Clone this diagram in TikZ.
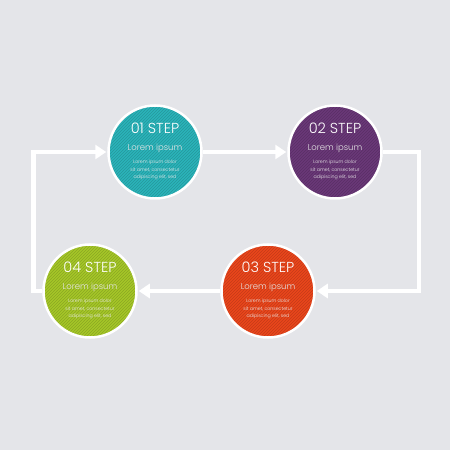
\documentclass[tikz,border=0pt]{standalone}
\usepackage{fontspec}
\setmainfont{Poppins Light}
\usepackage{xcolor}
\usepackage{tikz}
\usetikzlibrary{arrows.meta,patterns,calc}

\definecolor{bgray}{RGB}{228,229,233}
\definecolor{cteal}{RGB}{43,180,186}
\definecolor{cplum}{RGB}{106,56,120}
\definecolor{cred}{RGB}{234,70,28}
\definecolor{clime}{RGB}{166,199,40}

\newcommand{\stepText}[2]{%
	\node[steptitle] (#1t) at ($(#1)+(0,24)$) {#2 STEP};
	\node[stepsub] (#1s) at ($(#1)+(0,4)$) {Lorem ipsum};
	\node[stepbody] (#1b) at ($(#1)+(0,-18)$) {Lorem ipsum dolor\\sit amet, consectetur\\adipiscing elit, sed};
}

\begin{document}
\begin{tikzpicture}[x=1pt,y=1pt,
	stepdisc/.style={circle, draw=white, line width=2.5pt, minimum size=93pt, inner sep=0pt, preaction={fill=#1}, preaction={pattern=north east lines, pattern color=#1!84!black}},
	steptitle/.style={text=white, font=\fontsize{14.5}{16}\selectfont, inner sep=0pt},
	stepsub/.style={text=white!80!gray, font=\fontsize{8.5}{10}\selectfont, inner sep=0pt},
	stepbody/.style={text=white!85!gray, font=\fontsize{4.7}{7.3}\selectfont, align=center, inner sep=0pt},
	flow/.style={draw=white, line width=4.5pt, -{Triangle[length=11pt,width=14pt]}}]
	\fill[bgray] (0,0) rectangle (450,450);
	\useasboundingbox (0,0) rectangle (450,450);
	\node[stepdisc=cteal] (s1) at (155,298) {};
	\node[stepdisc=cplum] (s2) at (335,298) {};
	\node[stepdisc=cred] (s3) at (268,159) {};
	\node[stepdisc=clime] (s4) at (90,159) {};
	% the loop of arrows
	\draw[flow] (s4.west) -- ++(-9,0) |- ([xshift=-1pt]s1.west);
	\draw[flow] (s1.east) -- ([xshift=-1pt]s2.west);
	\draw[flow] (s2.east) -- ++(36,0) |- ([xshift=1pt]s3.east);
	\draw[flow] (s3.west) -- ([xshift=1pt]s4.east);
	\stepText{s1}{01}
	\stepText{s2}{02}
	\stepText{s3}{03}
	\stepText{s4}{04}
\end{tikzpicture}
\end{document}
